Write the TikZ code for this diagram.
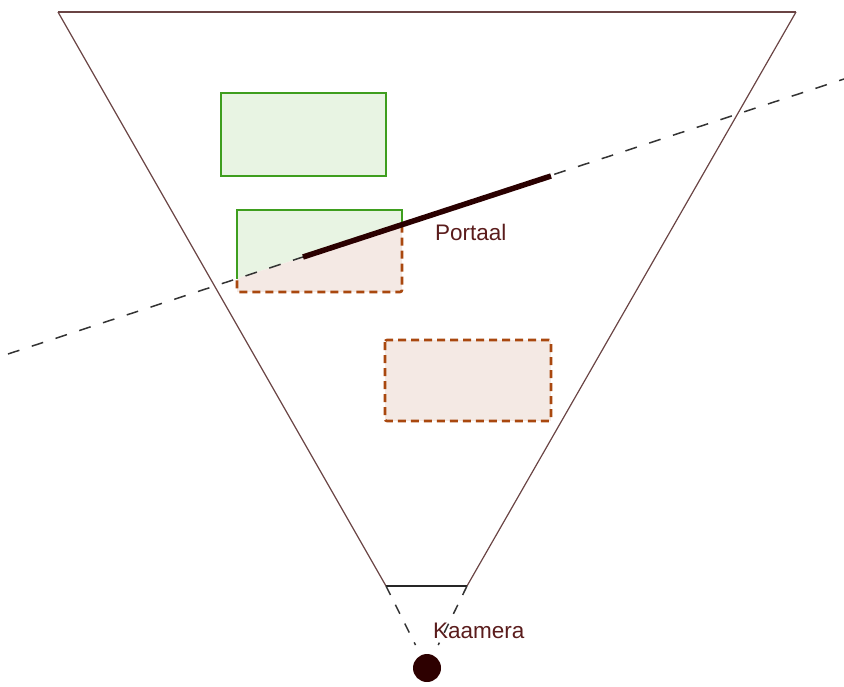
\documentclass[tikz,border=0pt]{standalone}
\usepackage{fontspec}
\setmainfont{Liberation Sans}
\usetikzlibrary{calc}
\begin{document}
\begin{tikzpicture}[x=1pt,y=-1pt,
  frustline/.style={draw=frust,line width=1.2pt},
  portdash/.style={draw=dashgray,line width=1.5pt,dash pattern=on 12pt off 13pt},
  greenfill/.style={fill=gfill},
  greenedge/.style={draw=gstroke,line width=2.6pt},
  brownfill/.style={fill=bfill},
  brownedge/.style={draw=bstroke,line width=2.6pt,dash pattern=on 8pt off 5pt,rounded corners=2pt},
  lbl/.style={text=txtc,font=\fontsize{22.5}{24}\selectfont,inner sep=0pt,anchor=base west}]
\definecolor{frust}{HTML}{6A4444}
\definecolor{dashgray}{HTML}{333333}
\definecolor{gfill}{HTML}{E8F4E3}
\definecolor{gstroke}{HTML}{3E9E1E}
\definecolor{bfill}{HTML}{F4E9E4}
\definecolor{bstroke}{HTML}{A9480F}
\definecolor{portc}{HTML}{2A0000}
\definecolor{txtc}{HTML}{5A1C1C}
\definecolor{camc}{HTML}{2D0000}
\useasboundingbox (0,0) rectangle (844,686);
% frustum
\coordinate (TL) at (58,12);
\coordinate (TR) at (796,12);
\coordinate (NL) at (386,586);
\coordinate (NR) at (467,586);
\coordinate (cam) at (427,668);
% portal plane line
\coordinate (P1) at (8,354);
\coordinate (P2) at (844,79);
\coordinate (PA) at (303,257);
\coordinate (PB) at (551,176);
% rect 2 cut points
\coordinate (CL) at (237,278.6);
\coordinate (CR) at (402,224.7);
% fills
\fill[greenfill] (221,93) rectangle (386,176);
\draw[greenedge] (221,93) rectangle (386,176);
\fill[greenfill] (237,210) -- (402,210) -- (CR) -- (CL) -- cycle;
\fill[brownfill] (CL) -- (CR) -- (402,292) -- (237,292) -- cycle;
\draw[greenedge] (CL) -- (237,210) -- (402,210) -- (CR);
\draw[brownedge] (CR) -- (402,292) -- (237,292) -- (CL);
\fill[brownfill] (385,340) rectangle (551,421);
\draw[brownedge] (385,340) rectangle (551,421);
% frustum edges
\draw[frustline] (TL) -- (TR);
\draw[frustline] (TL) -- (NL);
\draw[frustline] (TR) -- (NR);
\draw[draw=black!85,line width=1.5pt] (NL) -- (NR);
% camera rays
\draw[portdash,dash pattern=on 10pt off 11pt] (NL) -- ($(NL)!0.72!(cam)$) coordinate (RL);
\draw[portdash,dash pattern=on 10pt off 11pt] (NR) -- ($(NR)!0.72!(cam)$) coordinate (RR);
% portal line
\draw[portdash] (P1) -- (P2);
\draw[draw=portc,line width=5.5pt] (PA) -- (PB);
% camera
\fill[camc] (cam) circle (14);
% labels
\node[lbl] (portaal) at (435,240) {Portaal};
\node[lbl] (kaamera) at (433,638) {Kaamera};
\end{tikzpicture}
\end{document}
